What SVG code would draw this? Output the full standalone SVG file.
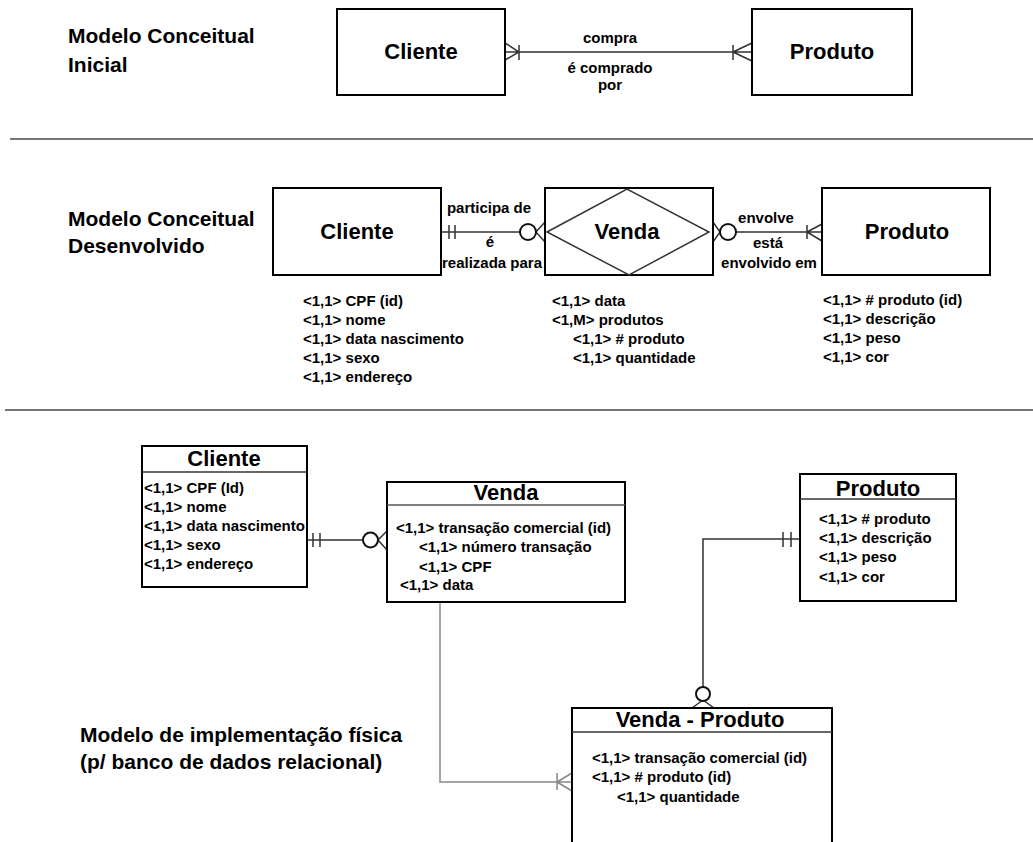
<svg xmlns="http://www.w3.org/2000/svg" width="1033" height="842" viewBox="0 0 1033 842">
<style>
text{font-family:"Liberation Sans",Arial,sans-serif;font-weight:bold;fill:#000}
.h{font-size:22px}
.t{font-size:21px}
.a{font-size:15px}
.c{text-anchor:middle}
.box{fill:#fff;stroke:#000;stroke-width:2}
.ln{fill:none;stroke:#333;stroke-width:1.5}
.gl{fill:none;stroke:#888;stroke-width:1.5}
.sep{stroke:#777;stroke-width:2}
.cir{fill:#fff;stroke:#111;stroke-width:2}
</style>
<rect width="1033" height="842" fill="#fff"/>
<g id="titles">
<text class="t" x="68" y="43">Modelo Conceitual</text>
<text class="t" x="68" y="72">Inicial</text>
<text class="t" x="68" y="226">Modelo Conceitual</text>
<text class="t" x="68" y="253">Desenvolvido</text>
<text class="t" x="80" y="742">Modelo de implementação física</text>
<text class="t" x="80" y="769">(p/ banco de dados relacional)</text>
</g>
<line class="sep" x1="10" y1="139" x2="1033" y2="139"/>
<line class="sep" x1="5" y1="410" x2="1033" y2="410"/>
<g id="connectors">
<!-- top -->
<path class="ln" d="M505 52H752 M505 43L519 52L505 60 M519 45V60 M733 45V60 M733 52L752 43 M733 52L752 61"/>
<!-- middle left -->
<path class="ln" d="M441 232H520 M449 225V239 M455 225V239 M536 232L545 222 M536 232L545 242"/>
<circle class="cir" cx="528" cy="232" r="8"/>
<!-- middle right -->
<path class="ln" d="M713 222L720 232L713 242 M736 232H822 M807 225V239 M807 232L822 224 M807 232L822 241"/>
<circle class="cir" cx="728" cy="232" r="8"/>
<!-- bottom cliente-venda -->
<path class="ln" d="M307 540H363 M313 533V547 M320 533V547 M378 540L387 531 M378 540L387 550"/>
<circle class="cir" cx="370.5" cy="540" r="7.5"/>
<!-- produto - venda-produto -->
<path class="ln" d="M800 539H703V687 M783 532V547 M791 532V547 M703 700L692 708 M703 700L714 708"/>
<circle class="cir" cx="703" cy="694" r="7"/>
<!-- venda - venda-produto -->
<path class="gl" d="M440 602V782H572 M557 773V790 M557 782L572 773 M557 782L572 791"/>
</g>
<g id="cliente-top">
<rect class="box" x="337" y="9" width="168" height="86"/>
<text class="h c" x="421" y="59">Cliente</text>
</g>
<g id="produto-top">
<rect class="box" x="752" y="9" width="160" height="86"/>
<text class="h c" x="832" y="59">Produto</text>
</g>
<g id="labels-top">
<text class="a c" x="610" y="43">compra</text>
<text class="a c" x="610" y="73">é comprado</text>
<text class="a c" x="610" y="90">por</text>
</g>
<g id="cliente-mid">
<rect class="box" x="273" y="188" width="168" height="87"/>
<text class="h c" x="357" y="239">Cliente</text>
</g>
<g id="venda-mid">
<rect class="box" x="545" y="188" width="168" height="87"/>
<path class="ln" d="M547 232L627 189L709 232L629 275Z"/>
<text class="h c" x="627" y="239">Venda</text>
</g>
<g id="produto-mid">
<rect class="box" x="822" y="188" width="168" height="87"/>
<text class="h c" x="907" y="239">Produto</text>
</g>
<g id="labels-mid">
<text class="a c" x="489" y="213">participa de</text>
<text class="a c" x="490" y="247">é</text>
<text class="a c" x="492" y="268">realizada para</text>
<text class="a c" x="766" y="223">envolve</text>
<text class="a c" x="768" y="248">está</text>
<text class="a c" x="769" y="268">envolvido em</text>
</g>
<g id="attrs-mid" class="a">
<text class="a" x="303" y="306">&lt;1,1&gt; CPF (id)</text>
<text class="a" x="303" y="325">&lt;1,1&gt; nome</text>
<text class="a" x="303" y="344">&lt;1,1&gt; data nascimento</text>
<text class="a" x="303" y="363">&lt;1,1&gt; sexo</text>
<text class="a" x="303" y="382">&lt;1,1&gt; endereço</text>
<text class="a" x="552" y="306">&lt;1,1&gt; data</text>
<text class="a" x="552" y="325">&lt;1,M&gt; produtos</text>
<text class="a" x="573" y="344">&lt;1,1&gt; # produto</text>
<text class="a" x="573" y="363">&lt;1,1&gt; quantidade</text>
<text class="a" x="823" y="305">&lt;1,1&gt; # produto (id)</text>
<text class="a" x="823" y="324">&lt;1,1&gt; descrição</text>
<text class="a" x="823" y="343">&lt;1,1&gt; peso</text>
<text class="a" x="823" y="362">&lt;1,1&gt; cor</text>
</g>
<g id="cliente-table">
<rect class="box" x="142" y="446" width="165" height="141"/>
<line stroke="#333" stroke-width="1.5" x1="142" y1="472" x2="307" y2="472"/>
<text class="h c" x="224" y="466">Cliente</text>
<text class="a" x="144" y="493">&lt;1,1&gt; CPF (Id)</text>
<text class="a" x="144" y="512">&lt;1,1&gt; nome</text>
<text class="a" x="144" y="531">&lt;1,1&gt; data nascimento</text>
<text class="a" x="144" y="550">&lt;1,1&gt; sexo</text>
<text class="a" x="144" y="569">&lt;1,1&gt; endereço</text>
</g>
<g id="venda-table">
<rect class="box" x="387" y="482" width="238" height="120"/>
<line stroke="#555" stroke-width="1.5" x1="387" y1="505" x2="625" y2="505"/>
<text class="h c" x="506" y="500">Venda</text>
<text class="a" x="396" y="533">&lt;1,1&gt; transação comercial (id)</text>
<text class="a" x="419" y="552">&lt;1,1&gt; número transação</text>
<text class="a" x="419" y="572">&lt;1,1&gt; CPF</text>
<text class="a" x="400" y="590">&lt;1,1&gt; data</text>
</g>
<g id="produto-table">
<rect class="box" x="800" y="474" width="156" height="127"/>
<line stroke="#333" stroke-width="1.5" x1="800" y1="499" x2="956" y2="499"/>
<text class="h c" x="878" y="496">Produto</text>
<text class="a" x="819" y="524">&lt;1,1&gt; # produto</text>
<text class="a" x="819" y="543">&lt;1,1&gt; descrição</text>
<text class="a" x="819" y="562">&lt;1,1&gt; peso</text>
<text class="a" x="819" y="582">&lt;1,1&gt; cor</text>
</g>
<g id="venda-produto-table">
<rect class="box" x="572" y="708" width="260" height="140"/>
<line stroke="#333" stroke-width="1.5" x1="572" y1="732" x2="832" y2="732"/>
<text class="h c" x="700" y="727">Venda - Produto</text>
<text class="a" x="592" y="763">&lt;1,1&gt; transação comercial (id)</text>
<text class="a" x="592" y="782">&lt;1,1&gt; # produto (id)</text>
<text class="a" x="617" y="802">&lt;1,1&gt; quantidade</text>
</g>
</svg>
